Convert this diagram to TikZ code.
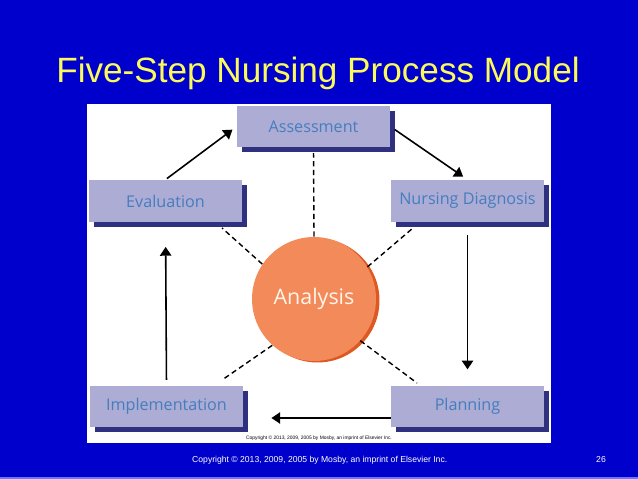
\documentclass[tikz,border=0pt]{standalone}
\usepackage{fontspec}
\setmainfont{Liberation Sans}
\newfontfamily\boxfont{Open Sans}
\usetikzlibrary{arrows.meta,positioning,shadows}
\definecolor{slideblue}{RGB}{0,0,204}
\definecolor{titleyellow}{RGB}{250,250,90}
\definecolor{boxfill}{RGB}{172,172,212}
\definecolor{boxshadow}{RGB}{48,48,128}
\definecolor{boxtext}{RGB}{70,125,190}
\definecolor{circfill}{RGB}{243,138,90}
\definecolor{circshadow}{RGB}{222,88,34}

\begin{document}
\begin{tikzpicture}[
    x=0.02cm,y=-0.02cm,
    frame/.style={fill=boxfill,minimum width=3.06cm,minimum height=0.84cm,
        font=\boxfont\fontsize{9.2}{11}\selectfont,text=boxtext,
        drop shadow={shadow xshift=0.1cm,shadow yshift=-0.1cm,fill=boxshadow,opacity=1}},
    arr/.style={-{Triangle[length=5pt,width=6.5pt]},line width=0.9pt},
    link/.style={dash pattern=on 3pt off 2pt,line width=0.8pt}
]
% slide
\fill[slideblue] (0,0) rectangle (638,479);
\fill[blue!55!white] (0,476.5) rectangle (638,479);
\fill[white] (87,104) rectangle (551,443);
\node[text=titleyellow,font=\fontsize{20}{24}\selectfont] (title) at (318,73) {Five-Step Nursing Process Model};

% steps
\node[frame] (assess) at (313.5,126.5) {Assessment};
\node[frame] (eval) at (165.5,201) {Evaluation};
\node[frame] (diag) at (467.5,201) {Nursing Diagnosis};
\node[frame] (impl) at (166.5,406.5) {Implementation};
\node[frame] (plan) at (467.5,406.5) {Planning};
\node[circle,fill=circfill,minimum size=2.48cm,text=orange!8,
    font=\boxfont\fontsize{12.2}{14}\selectfont,
    drop shadow={shadow xshift=0.07cm,shadow yshift=-0.03cm,fill=circshadow,opacity=1}] (analysis) at (314,299) {Analysis};

% ends of the dashed links
\coordinate (evalend) at (222,228);
\coordinate (diagend) at (413,228);
\coordinate (implend) at (222,380);
\coordinate (planend) at (417,383);

% cycle
\draw[arr,shorten <=1pt,shorten >=3pt] (eval.north) -- (assess.west);
\draw[arr,shorten <=3pt,shorten >=3pt] (assess.east) -- (diag.north);
\draw[arr,shorten <=7pt,shorten >=9pt] (diag.south) -- (plan.north);
\draw[arr,shorten >=16pt] ([yshift=-0.23cm]plan.west) -- ([yshift=-0.23cm]impl.east);
\draw[arr,shorten <=3pt,shorten >=14pt] (impl.north) -- (eval.south);

% links to analysis
\draw[link,shorten >=3pt] (analysis.north) -- (assess.south);
\draw[link] (analysis.146) -- (evalend);
\draw[link] (analysis.31) -- (diagend);
\draw[link] (analysis.228) -- (implend);
\draw[link] (analysis.318) -- (planend);

% credits
\node[font=\fontsize{2.8}{3}\selectfont] (credit) at (319,438) {Copyright \textcopyright{} 2013, 2009, 2005 by Mosby, an imprint of Elsevier Inc.};
\node[text=white,font=\fontsize{4.9}{6}\selectfont,anchor=west] (footer) at (186,460) {Copyright \textcopyright{} 2013, 2009, 2005 by Mosby, an imprint of Elsevier Inc.};
\node[text=white,font=\fontsize{4.9}{6}\selectfont] (page) at (601,460) {26};
\end{tikzpicture}
\end{document}
